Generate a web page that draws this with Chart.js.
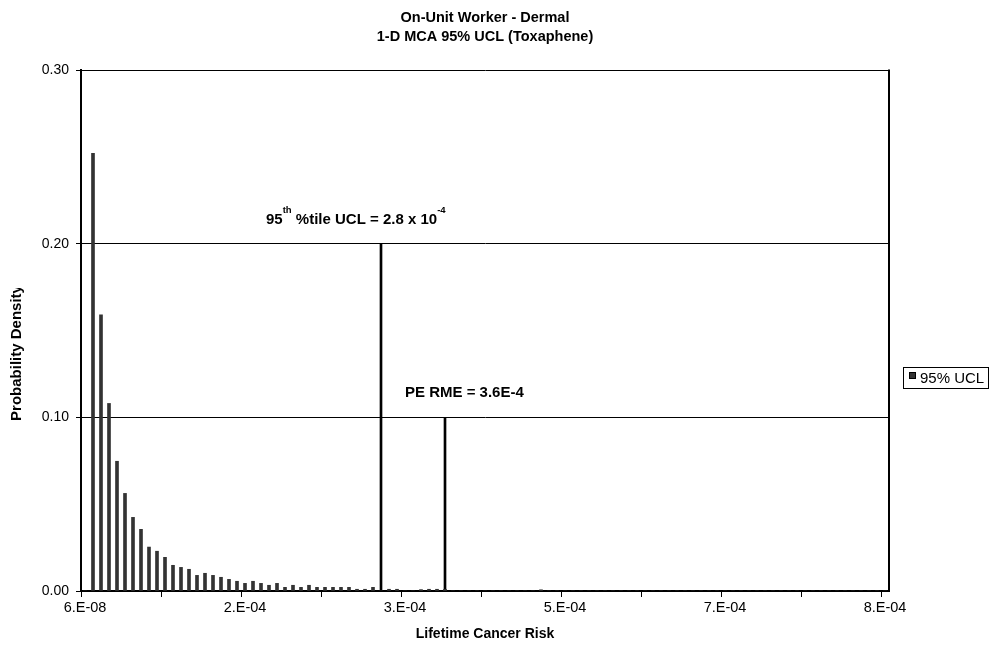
<!DOCTYPE html>
<html><head><meta charset="utf-8">
<script src="https://cdn.jsdelivr.net/npm/chart.js@4/dist/chart.umd.min.js"></script>
<style>html,body{margin:0;padding:0;background:#fff;}canvas{display:block;}</style>
</head><body>
<canvas id="c" width="995" height="650"></canvas>
<script>
// ---------------- data ----------------
const chartTitle = ["On-Unit Worker - Dermal", "1-D MCA 95% UCL (Toxaphene)"];
const xAxisTitle = "Lifetime Cancer Risk";
const yAxisTitle = "Probability Density";
const seriesName = "95% UCL";
const binCount = 101;
const xTickLabels = ["6.E-08", "2.E-04", "3.E-04", "5.E-04", "7.E-04", "8.E-04"];
const xLabelEvery = 20;
const xTickEvery = 10;
const yMin = 0, yMax = 0.3, yStep = 0.1;
const density = [
  0,
  0.252, 0.159, 0.108, 0.0747, 0.0562, 0.0424, 0.0355, 0.0253, 0.0229, 0.0194,
  0.0148, 0.0136, 0.0125, 0.0090, 0.0102, 0.0090, 0.0079, 0.0067, 0.0056, 0.0044,
  0.0056, 0.0044, 0.0033, 0.0044, 0.0021, 0.0033, 0.0021, 0.0033, 0.0021, 0.0021,
  0.0021, 0.0021, 0.0021, 0.0010, 0.0010, 0.0021, 0, 0.0010, 0.0010, 0,
  0, 0.0008, 0.0010, 0.0010, 0.0010, 0, 0, 0, 0, 0,
  0, 0, 0, 0, 0, 0, 0.0007, 0, 0, 0,
  0, 0, 0, 0, 0, 0, 0, 0, 0, 0,
  0, 0, 0, 0, 0, 0, 0, 0, 0, 0,
  0, 0, 0, 0, 0, 0, 0, 0, 0, 0,
  0, 0, 0, 0, 0, 0, 0, 0, 0, 0
];
const markerBins = [37, 45];
const markerValues = [0.20, 0.10];
const markerTexts = [
  [["95", false], ["th", true], [" %tile UCL = 2.8 x 10", false], ["-4", true]],
  [["PE RME = 3.6E-4", false]]
];

// ---------------- styles ----------------
const FONT = '"Liberation Sans", Arial, sans-serif';
const markerLabelOffsets = [[-115, -20], [-40, -20]];

const categories = Array.from({length: binCount}, (_, i) =>
  i % xLabelEvery === 0 ? xTickLabels[i / xLabelEvery] : "");
const markerData = Array.from({length: binCount}, () => null);
markerBins.forEach((b, k) => { markerData[b] = markerValues[k]; });

Chart.defaults.font.family = FONT;
Chart.defaults.color = '#000';

function drawRuns(ctx, runs, x, y, size) {
  let cx = x;
  ctx.textAlign = 'left';
  ctx.textBaseline = 'alphabetic';
  runs.forEach(([t, sup]) => {
    if (sup) {
      ctx.font = 'bold 9.5px ' + FONT;
      ctx.fillText(t, cx, y - 11);
    } else {
      ctx.font = 'bold ' + size + 'px ' + FONT;
      ctx.fillText(t, cx, y);
    }
    cx += ctx.measureText(t).width;
  });
}

const decor = {
  id: 'decor',
  afterDraw(chart) {
    const {ctx, chartArea: a, scales: {x, y}} = chart;
    ctx.save();
    // right border of plot area
    ctx.strokeStyle = '#000';
    ctx.lineWidth = 2;
    ctx.beginPath();
    ctx.moveTo(a.right, a.top - 0.5);
    ctx.lineTo(a.right, a.bottom + 1);
    ctx.stroke();

    ctx.fillStyle = '#000';
    const cx = (a.left + a.right) / 2;
    // chart title
    ctx.font = 'bold 14.5px ' + FONT;
    ctx.textAlign = 'center';
    ctx.textBaseline = 'middle';
    ctx.fillText(chartTitle[0], cx, 18);
    ctx.fillText(chartTitle[1], cx, 37);
    // x axis title
    ctx.font = 'bold 14px ' + FONT;
    ctx.fillText(xAxisTitle, cx, 634);
    // y axis title (clipped at the top like the original)
    ctx.save();
    ctx.beginPath();
    ctx.rect(0, 288, 40, 300);
    ctx.clip();
    ctx.translate(17, 353);
    ctx.rotate(-Math.PI / 2);
    ctx.font = 'bold 15px ' + FONT;
    ctx.fillText(yAxisTitle, 0, 0);
    ctx.restore();

    // marker annotations
    markerBins.forEach((b, k) => {
      const px = x.getPixelForValue(b);
      const py = y.getPixelForValue(markerValues[k]);
      drawRuns(ctx, markerTexts[k], px + markerLabelOffsets[k][0], py + markerLabelOffsets[k][1], 15);
    });

    // legend
    ctx.lineWidth = 1;
    ctx.strokeStyle = '#000';
    ctx.strokeRect(903.5, 367.5, 85, 21);
    ctx.fillStyle = '#333';
    ctx.fillRect(909, 372, 7, 7);
    ctx.strokeRect(909.5, 372.5, 6, 6);
    ctx.fillStyle = '#000';
    ctx.font = '15px ' + FONT;
    ctx.textAlign = 'left';
    ctx.textBaseline = 'middle';
    ctx.fillText(seriesName, 920, 378.5);
    ctx.restore();
  }
};

new Chart(document.getElementById('c'), {
  type: 'bar',
  data: {
    labels: categories,
    datasets: [
      {
        label: seriesName,
        data: density,
        backgroundColor: '#333333',
        borderWidth: 0,
        barThickness: 3,
        grouped: false
      },
      {
        label: 'markers',
        data: markerData,
        backgroundColor: '#000000',
        borderWidth: 0,
        barThickness: 2,
        grouped: false
      }
    ]
  },
  options: {
    responsive: false,
    animation: false,
    layout: { padding: { left: 0, top: 70, right: 106, bottom: 0 } },
    plugins: {
      legend: { display: false },
      title: { display: false },
      tooltip: { enabled: false }
    },
    scales: {
      x: {
        type: 'category',
        offset: true,
        grid: {
          offset: true,
          drawOnChartArea: false,
          drawTicks: true,
          tickLength: 6,
          lineWidth: 1,
          color: (c) => (c.type === 'tick' && c.index % xTickEvery === 0) ? '#000' : 'rgba(0,0,0,0)'
        },
        border: { display: true, color: '#000', width: 2 },
        ticks: {
          autoSkip: false,
          maxRotation: 0,
          minRotation: 0,
          padding: 2,
          color: '#000',
          font: { size: 14.5 }
        },
        afterFit: (s) => { s.height = 59; }
      },
      y: {
        min: yMin,
        max: yMax,
        ticks: {
          stepSize: yStep,
          padding: 7,
          color: '#000',
          font: { size: 14 },
          callback: (v) => Number(v).toFixed(2)
        },
        grid: {
          color: '#000',
          lineWidth: 1,
          tickLength: 5,
          drawTicks: true
        },
        border: { display: true, color: '#000', width: 2 },
        afterFit: (s) => { s.width = 81; }
      }
    }
  },
  plugins: [decor]
});
</script>
</body></html>
